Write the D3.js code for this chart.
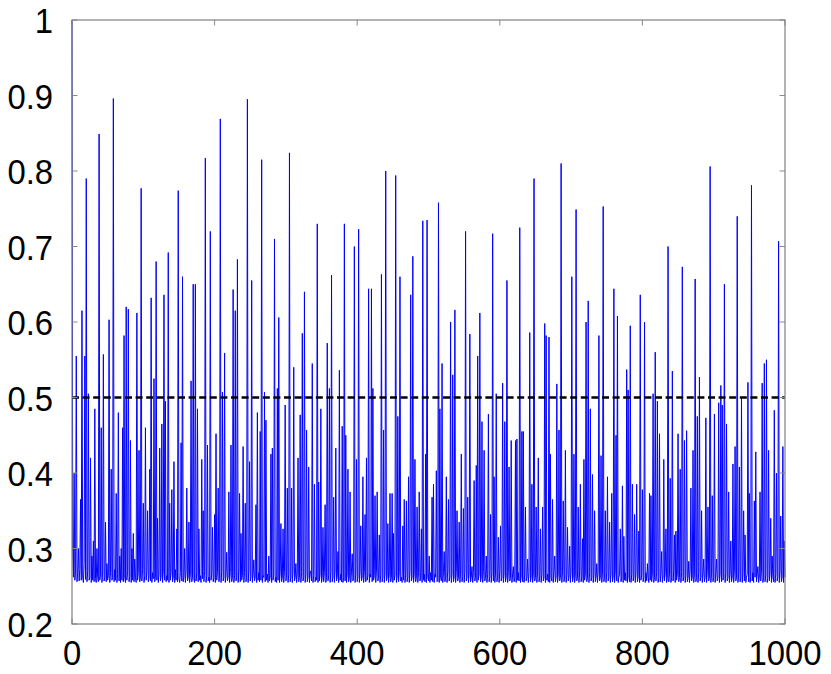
<!DOCTYPE html>
<html>
<head>
<meta charset="utf-8">
<script src="https://cdn.jsdelivr.net/npm/d3@7"></script>
<style>
  html, body { margin: 0; padding: 0; background: #fff; }
  svg { display: block; }
</style>
</head>
<body>
<svg id="chart" width="831" height="674"></svg>
<script>
// ---- data (values in thousandths) ----
const signalMilli = [
1000,300,262,400,258,270,555,256,268,300,
257,272,365,258,615,262,255,280,555,259,
790,256,270,505,258,262,420,255,290,258,
310,256,485,260,255,300,262,256,849,258,
266,460,255,270,557,257,262,335,256,280,
258,264,603,255,268,405,258,262,896,256,
272,258,373,255,266,480,257,290,255,300,
258,460,256,582,262,255,620,258,270,617,
256,263,443,255,300,258,320,256,286,262,
255,612,258,268,430,256,262,777,257,272,
360,255,264,460,258,270,350,256,262,405,
257,632,255,268,260,525,256,262,680,258,
340,255,266,433,257,262,465,255,270,636,
258,495,256,264,258,692,255,360,258,268,
378,256,262,415,255,272,258,326,256,774,
260,255,268,440,257,660,256,262,300,255,
270,380,257,262,335,255,266,522,256,262,
650,258,255,650,257,268,485,256,326,258,
264,255,418,260,350,256,270,817,255,264,
437,257,262,255,720,258,266,328,256,262,
345,255,452,258,268,380,256,262,869,255,
270,507,257,262,559,255,266,295,257,262,
375,255,268,437,256,262,643,255,264,615,
257,262,683,255,270,373,256,320,258,264,
435,255,268,360,256,262,895,255,270,415,
257,262,655,255,266,285,257,262,358,255,
480,258,268,256,455,258,815,255,264,262,
507,256,470,258,266,255,290,257,262,425,
255,433,258,266,710,256,262,255,512,258,
606,255,268,333,256,262,326,255,270,490,
257,262,380,255,266,824,256,262,380,255,
270,540,257,262,280,255,266,420,256,262,
477,255,268,585,257,262,640,255,266,457,
256,262,408,255,270,270,257,545,255,264,
385,256,262,258,730,255,388,257,266,485,
255,262,328,256,268,358,255,262,572,257,
264,512,255,268,662,256,262,368,255,270,
433,257,262,296,255,536,258,266,256,462,
255,262,730,257,450,255,266,405,256,262,
375,255,270,293,257,262,700,255,266,418,
256,262,723,255,268,330,257,262,395,255,
270,345,256,420,258,264,644,255,266,262,
644,256,512,258,264,370,255,270,375,257,
262,318,255,266,663,256,262,457,255,268,
800,257,262,333,255,266,373,256,262,373,
255,320,258,266,794,255,262,475,256,268,
660,257,262,255,330,258,365,255,266,363,
256,262,395,255,270,636,257,262,687,255,
266,418,256,262,355,255,268,375,257,262,
326,255,734,258,266,256,425,255,735,262,
257,290,255,268,258,368,256,385,255,266,
262,403,256,258,758,255,485,262,257,545,
255,268,296,256,262,395,255,270,365,257,
262,600,255,266,530,256,262,616,255,268,
350,257,262,335,255,266,425,256,262,353,
255,270,720,257,262,368,255,266,584,256,
262,276,255,268,390,257,262,410,255,555,
258,266,612,256,262,468,255,270,430,257,
262,290,255,266,478,256,262,345,255,268,
717,257,395,255,266,505,256,262,315,255,
270,330,257,262,519,255,266,468,256,262,
655,255,268,408,257,262,443,255,266,276,
256,262,443,255,445,258,268,257,725,255,
262,455,256,455,255,266,355,257,262,286,
255,268,586,256,262,385,255,266,790,257,
262,355,255,270,420,256,262,326,255,266,
355,257,262,598,255,582,258,266,256,580,
255,425,262,257,365,255,268,290,256,262,
518,255,266,457,257,262,810,255,270,363,
256,262,430,255,266,328,257,262,303,255,
268,660,256,262,425,255,266,749,257,262,
355,255,270,385,256,262,313,255,418,258,
266,600,256,262,628,255,268,485,257,262,
398,255,266,350,256,262,280,255,270,582,
257,262,423,255,266,753,256,262,350,255,
268,395,257,262,335,255,266,373,256,262,
644,255,270,450,257,608,255,262,266,326,
256,262,383,255,316,258,268,257,537,255,
510,262,256,595,255,266,385,257,262,345,
255,268,385,256,262,323,255,636,258,266,
378,256,262,600,255,268,257,280,262,255,
373,258,370,256,266,505,255,262,560,257,
268,495,255,262,452,256,266,296,255,262,
418,257,268,326,255,262,700,256,266,393,
255,262,535,257,270,318,255,323,258,266,
452,256,262,405,255,268,673,257,262,443,
255,266,456,256,262,283,255,270,380,257,
262,430,255,266,657,256,262,475,255,268,
527,257,262,350,255,266,286,256,262,473,
255,270,355,257,262,806,255,266,370,256,
262,478,255,268,286,257,262,493,255,266,
516,256,490,258,262,650,255,268,465,257,
262,375,255,266,310,256,262,412,255,270,
435,257,262,740,255,266,408,256,262,500,
255,268,350,257,318,255,262,266,520,256,
373,255,262,781,257,268,255,363,262,428,
256,266,276,255,262,375,257,270,519,255,
262,545,256,266,550,255,262,430,257,268,
340,255,290,262,256,483,255,266,400,257,
262,707,255,268,343,256,262,435,255,310,
262
];
const xDomain = [0, 1000];
const yDomainMilli = [200, 1000];
const xTicks = [0, 200, 400, 600, 800, 1000];
const xTickLabels = ["0", "200", "400", "600", "800", "1000"];
const yTicksMilli = [200, 300, 400, 500, 600, 700, 800, 900, 1000];
const yTickLabels = ["0.2", "0.3", "0.4", "0.5", "0.6", "0.7", "0.8", "0.9", "1"];
const thresholdMilli = 500;

// ---- layout ----
const L = 72, R = 785, T = 20, B = 624;
const svg = d3.select("#chart");
const x = d3.scaleLinear().domain(xDomain).range([L, R]);
const y = d3.scaleLinear().domain(yDomainMilli).range([B, T]);

const fontFamily = "'Liberation Sans Narrow', 'Liberation Sans', 'DejaVu Sans Condensed', sans-serif";

// signal
const line = d3.line().x((d, i) => x(i)).y(d => y(d));
svg.append("path")
  .datum(signalMilli)
  .attr("d", line)
  .attr("fill", "none")
  .attr("stroke", "#0000ff")
  .attr("stroke-width", 1)
  .attr("stroke-linejoin", "miter");

// threshold dashed line
svg.append("line")
  .attr("x1", x(xDomain[0])).attr("x2", x(xDomain[1]))
  .attr("y1", y(thresholdMilli)).attr("y2", y(thresholdMilli))
  .attr("stroke", "#000").attr("stroke-width", 2.4)
  .attr("stroke-dasharray", "7,3.6");

// axes: ticks on all four sides, pointing inward
const tickLen = 5.5;
const axisColor = "#8a8a8a";
const gx = svg.append("g");
gx.selectAll("line.bt").data(xTicks).enter().append("line")
  .attr("x1", d => x(d)).attr("x2", d => x(d))
  .attr("y1", B).attr("y2", B - tickLen)
  .attr("stroke", axisColor).attr("stroke-width", 1);
gx.selectAll("line.tt").data(xTicks).enter().append("line")
  .attr("x1", d => x(d)).attr("x2", d => x(d))
  .attr("y1", T).attr("y2", T + tickLen)
  .attr("stroke", axisColor).attr("stroke-width", 1);
const gy = svg.append("g");
gy.selectAll("line.lt").data(yTicksMilli).enter().append("line")
  .attr("x1", L).attr("x2", L + tickLen)
  .attr("y1", d => y(d)).attr("y2", d => y(d))
  .attr("stroke", axisColor).attr("stroke-width", 1);
gy.selectAll("line.rt").data(yTicksMilli).enter().append("line")
  .attr("x1", R).attr("x2", R - tickLen)
  .attr("y1", d => y(d)).attr("y2", d => y(d))
  .attr("stroke", axisColor).attr("stroke-width", 1);

// frame
svg.append("rect")
  .attr("x", L).attr("y", T).attr("width", R - L).attr("height", B - T)
  .attr("fill", "none").attr("stroke", "#808080").attr("stroke-width", 1.2);

// tick labels, horizontally scaled to match reference digit width
const fontSize = 36;
const probe = svg.append("text").attr("font-family", fontFamily)
  .attr("font-size", fontSize).text("1000");
const w = probe.node().getComputedTextLength();
probe.remove();
const sx = w > 0 ? 73 / w : 1;

xTicks.forEach((t, i) => {
  svg.append("text")
    .attr("transform", `translate(${x(t)},${665}) scale(${sx},1)`)
    .attr("text-anchor", "middle")
    .attr("font-family", fontFamily).attr("font-size", fontSize)
    .attr("fill", "#000")
    .text(xTickLabels[i]);
});
yTicksMilli.forEach((t, i) => {
  svg.append("text")
    .attr("transform", `translate(${53},${y(t) + 13}) scale(${sx},1)`)
    .attr("text-anchor", "end")
    .attr("font-family", fontFamily).attr("font-size", fontSize)
    .attr("fill", "#000")
    .text(yTickLabels[i]);
});
</script>
</body>
</html>
